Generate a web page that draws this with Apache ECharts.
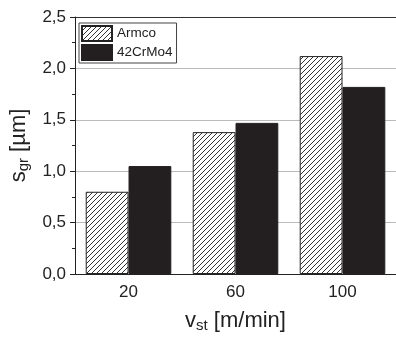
<!DOCTYPE html>
<html>
<head>
<meta charset="utf-8">
<script src="https://cdn.jsdelivr.net/npm/echarts@6/dist/echarts.min.js"></script>
<style>
html,body{margin:0;padding:0;background:#fff;}
#chart{width:396px;height:338px;}
</style>
</head>
<body>
<div id="chart"></div>
<script>
const categories = ['20', '60', '100'];
const armco = [0.80, 1.38, 2.12];
const crmo = [1.05, 1.47, 1.82];
const seriesNames = ['Armco', '42CrMo4'];
const yTicks = [0, 0.5, 1.0, 1.5, 2.0, 2.5];

const FONT = '"Liberation Sans", Arial, sans-serif';

// hatch pattern "////"
const cv = document.createElement('canvas');
cv.width = 5; cv.height = 5;
const cx = cv.getContext('2d');
cx.fillStyle = '#ffffff';
cx.fillRect(0, 0, 5, 5);
cx.fillStyle = '#333333';
for (let i = 0; i < 5; i++) cx.fillRect(i, 4 - i, 1, 1);
const hatch = { image: cv, repeat: 'repeat' };

const chart = echarts.init(document.getElementById('chart'), null, { renderer: 'canvas' });
chart.setOption({
  animation: false,
  backgroundColor: '#fff',
  textStyle: { fontFamily: FONT },
  grid: { left: 73, top: 17, width: 327, bottom: 58, containLabel: false },
  legend: {
    orient: 'vertical',
    left: 79, top: 23,
    padding: [2, 4, 2, 2],
    icon: 'rect',
    itemWidth: 30, itemHeight: 15, itemGap: 2,
    borderColor: '#444', borderWidth: 1,
    textStyle: { fontSize: 13.5, color: '#222', fontFamily: FONT },
    data: seriesNames
  },
  xAxis: [{
    type: 'category',
    data: categories,
    position: 'bottom',
    name: 'v{sub|st} [m/min]',
    nameLocation: 'middle',
    nameGap: 34,
    nameTextStyle: {
      fontSize: 22, color: '#222', fontFamily: FONT,
      rich: { sub: { fontSize: 15, padding: [10, 0, 0, 0], color: '#222', fontFamily: FONT } }
    },
    axisLine: { lineStyle: { color: '#222', width: 1 } },
    axisTick: { alignWithLabel: true, length: 5, lineStyle: { color: '#222' } },
    axisLabel: { fontSize: 17, color: '#222', margin: 10, fontFamily: FONT },
    splitLine: { show: false }
  }, {
    type: 'category',
    data: categories,
    position: 'bottom',
    axisLine: { show: false },
    axisTick: { alignWithLabel: false, length: 3, lineStyle: { color: '#222' } },
    axisLabel: { show: false },
    splitLine: { show: false }
  }],
  yAxis: {
    type: 'value',
    min: yTicks[0], max: yTicks[yTicks.length - 1], interval: 0.5,
    name: 's{sub|gr} [µm]',
    nameLocation: 'middle',
    nameGap: 42,
    nameRotate: 90,
    nameTextStyle: {
      fontSize: 22, color: '#222', fontFamily: FONT,
      rich: { sub: { fontSize: 15, padding: [10, 0, 0, 0], color: '#222', fontFamily: FONT } }
    },
    axisLine: { show: true, lineStyle: { color: '#222', width: 1 } },
    axisTick: { show: true, length: 5, lineStyle: { color: '#222' } },
    minorTick: { show: true, splitNumber: 2, length: 3, lineStyle: { color: '#222' } },
    axisLabel: {
      fontSize: 17, color: '#222', margin: 9, fontFamily: FONT,
      formatter: v => v.toFixed(1).replace('.', ',')
    },
    splitLine: { show: true, lineStyle: { color: ['#bbb', '#bbb', '#bbb', '#bbb', '#bbb', '#333'], width: 1 } }
  },
  series: [{
    name: seriesNames[0],
    type: 'bar',
    data: armco,
    barWidth: '40%',
    barGap: '0%',
    itemStyle: { color: hatch, borderColor: '#222', borderWidth: 1 }
  }, {
    name: seriesNames[1],
    type: 'bar',
    data: crmo,
    barWidth: '40%',
    barGap: '0%',
    itemStyle: { color: '#231f20', borderColor: '#231f20', borderWidth: 1 }
  }]
});
</script>
</body>
</html>
